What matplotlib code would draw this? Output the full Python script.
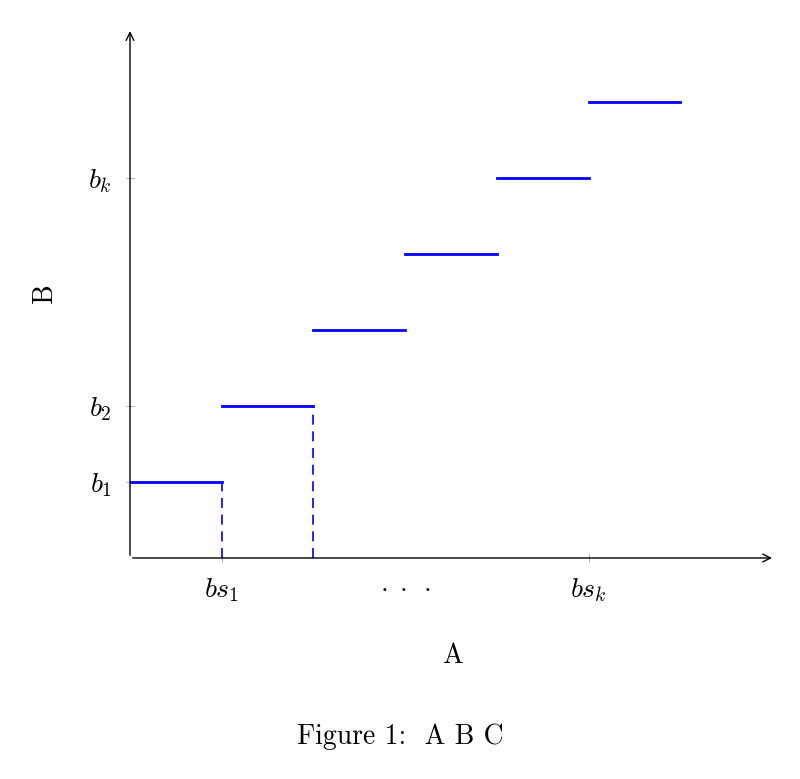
import matplotlib
matplotlib.use("Agg")
import matplotlib.pyplot as plt

plt.rcParams['mathtext.fontset'] = 'cm'
plt.rcParams['font.family'] = ['cmr10', 'DejaVu Serif']
plt.rcParams['axes.formatter.use_mathtext'] = True

# step segments: start x, end x, level
step_x0 = [0, 1, 2, 3, 4, 5]
step_x1 = [1, 2, 3, 4, 5, 6]
step_y = [1, 2, 3, 4, 5, 6]
# dashed drops
drop_x = [1, 2]
drop_y = [1, 2]
xticks = [1, 5]
xlabels = [r'$bs_1$', r'$bs_k$']
yticks = [1, 2, 5]
ylabels = [r'$b_1$', r'$b_2$', r'$b_k$']

fig = plt.figure(figsize=(8, 7.79), dpi=100)
ax = fig.add_axes([0.1625, 0.2837, 0.806, 0.680])
ax.set_xlim(0, 7.03)
ax.set_ylim(0, 6.97)
for s in ax.spines.values():
    s.set_visible(False)

blue = '#0000ff'
for x0, x1, y in zip(step_x0, step_x1, step_y):
    ax.plot([x0, x1], [y, y], color=blue, lw=2)
for x, y in zip(drop_x, drop_y):
    ax.plot([x, x], [0, y], color=blue, lw=1.2, ls=(0, (6, 4)))

arrow = dict(arrowstyle='->', color='black', lw=1, mutation_scale=14)
ax.annotate('', xy=(7.03, 0), xytext=(0, 0), arrowprops=arrow, annotation_clip=False)
ax.annotate('', xy=(0, 6.97), xytext=(0, 0), arrowprops=arrow, annotation_clip=False)

ax.set_xticks(xticks)
ax.set_xticklabels(xlabels, fontsize=20)
ax.set_yticks(yticks)
ax.set_yticklabels(ylabels, fontsize=20)
ax.tick_params(axis='x', direction='inout', length=6, width=0.5, pad=10, color='#888888')
ax.tick_params(axis='y', direction='inout', length=6, width=0.5, pad=10, color='#888888')
ax.text(3, -0.2, r'$\cdot\;\cdot\;\cdot$', fontsize=20, ha='center', va='top')

ax.set_xlabel('A', fontsize=20, labelpad=28)
ax.set_ylabel('B', fontsize=20, labelpad=22)
fig.text(0.5, 0.045, 'Figure 1:  A B C', fontsize=20, ha='center')

fig.savefig('out.png', dpi=100)
